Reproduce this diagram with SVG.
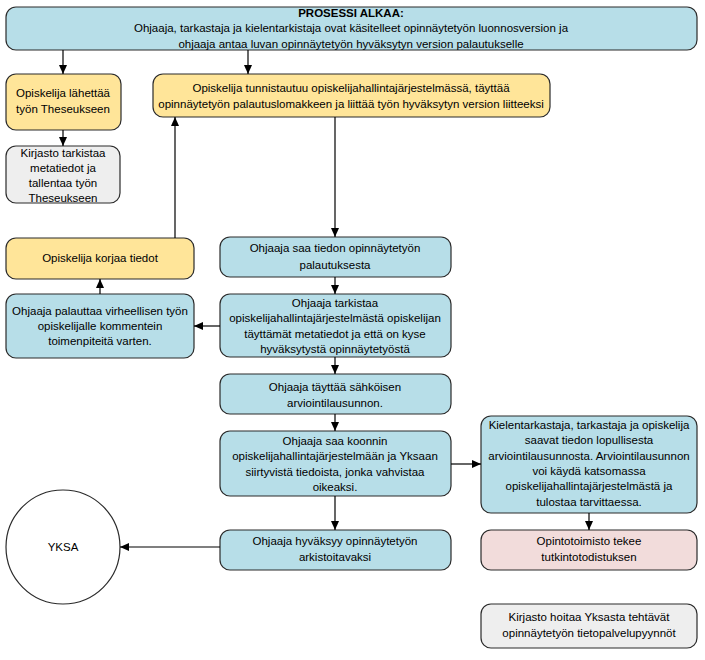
<svg xmlns="http://www.w3.org/2000/svg" width="705" height="660" viewBox="0 0 705 660">
<defs>
<marker id="ah" markerWidth="10" markerHeight="10" refX="9" refY="5" orient="auto" markerUnits="userSpaceOnUse">
<path d="M0,1 L9,5 L0,9 Z" fill="#000"/>
</marker>
<style>
.b{stroke:#2b2b2b;stroke-width:1.2}
.blue{fill:#B7DEE8}
.yel{fill:#FFE599}
.gray{fill:#EEEEEE}
.pink{fill:#F2DCDB}
text{font-family:"Liberation Sans",Arial,sans-serif;font-size:11.5px;fill:#000;text-anchor:middle}
.c line{stroke:#000;stroke-width:1.2;marker-end:url(#ah)}
</style>
</defs>
<rect width="705" height="660" fill="#fff"/>
<g id="start">
<rect class="b blue" x="6" y="7" width="691" height="43" rx="10"/>
<text x="351" y="17" font-weight="bold">PROSESSI ALKAA:</text>
<text x="351" y="32">Ohjaaja, tarkastaja ja kielentarkistaja ovat käsitelleet opinnäytetyön luonnosversion ja</text>
<text x="351" y="48">ohjaaja antaa luvan opinnäytetyön hyväksytyn version palautukselle</text>
</g>
<g id="laheta">
<rect class="b yel" x="6" y="74" width="115" height="56" rx="10"/>
<text x="63" y="97">Opiskelija lähettää</text>
<text x="63" y="113">työn Theseukseen</text>
</g>
<g id="tunnistautuu">
<rect class="b yel" x="153" y="74" width="397" height="43" rx="10"/>
<text x="351" y="92">Opiskelija tunnistautuu opiskelijahallintajärjestelmässä, täyttää</text>
<text x="351" y="108">opinnäytetyön palautuslomakkeen ja liittää työn hyväksytyn version liitteeksi</text>
</g>
<g id="kirjasto1">
<rect class="b gray" x="6" y="146" width="114" height="57" rx="10"/>
<text x="63" y="157">Kirjasto tarkistaa</text>
<text x="63" y="172">metatiedot ja</text>
<text x="63" y="187">tallentaa työn</text>
<text x="63" y="202">Theseukseen</text>
</g>
<g id="korjaa">
<rect class="b yel" x="6" y="238" width="188" height="41" rx="10"/>
<text x="100" y="262">Opiskelija korjaa tiedot</text>
</g>
<g id="palauttaa">
<rect class="b blue" x="6" y="294" width="188" height="64" rx="10"/>
<text x="100" y="315">Ohjaaja palauttaa virheellisen työn</text>
<text x="100" y="330">opiskelijalle kommentein</text>
<text x="100" y="345">toimenpiteitä varten.</text>
</g>
<g id="saatiedon">
<rect class="b blue" x="220" y="237" width="231" height="40" rx="10"/>
<text x="335" y="252">Ohjaaja saa tiedon opinnäytetyön</text>
<text x="335" y="269">palautuksesta</text>
</g>
<g id="tarkistaa">
<rect class="b blue" x="220" y="294" width="231" height="63" rx="10"/>
<text x="335" y="307">Ohjaaja tarkistaa</text>
<text x="335" y="322">opiskelijahallintajärjestelmästä opiskelijan</text>
<text x="335" y="338">täyttämät metatiedot ja että on kyse</text>
<text x="335" y="353">hyväksytystä opinnäytetyöstä</text>
</g>
<g id="tayttaa">
<rect class="b blue" x="220" y="374" width="231" height="40" rx="10"/>
<text x="335" y="391">Ohjaaja täyttää sähköisen</text>
<text x="335" y="407">arviointilausunnon.</text>
</g>
<g id="koonnin">
<rect class="b blue" x="220" y="431" width="231" height="65" rx="10"/>
<text x="335" y="445">Ohjaaja saa koonnin</text>
<text x="335" y="460">opiskelijahallintajärjestelmään ja Yksaan</text>
<text x="335" y="476">siirtyvistä tiedoista, jonka vahvistaa</text>
<text x="335" y="491">oikeaksi.</text>
</g>
<g id="hyvaksyy">
<rect class="b blue" x="220" y="530" width="231" height="40" rx="10"/>
<text x="335" y="545">Ohjaaja hyväksyy opinnäytetyön</text>
<text x="335" y="561">arkistoitavaksi</text>
</g>
<g id="kielentarkastaja">
<rect class="b blue" x="481" y="416" width="216" height="97" rx="10"/>
<text x="589" y="429">Kielentarkastaja, tarkastaja ja opiskelija</text>
<text x="589" y="444">saavat tiedon lopullisesta</text>
<text x="589" y="460">arviointilausunnosta. Arviointilausunnon</text>
<text x="589" y="475">voi käydä katsomassa</text>
<text x="589" y="490">opiskelijahallintajärjestelmästä ja</text>
<text x="589" y="506">tulostaa tarvittaessa.</text>
</g>
<g id="opintotoimisto">
<rect class="b pink" x="481" y="530" width="216" height="40" rx="10"/>
<text x="589" y="545">Opintotoimisto tekee</text>
<text x="589" y="561">tutkintotodistuksen</text>
</g>
<g id="kirjasto2">
<rect class="b gray" x="481" y="604" width="216" height="44" rx="10"/>
<text x="589" y="621">Kirjasto hoitaa Yksasta tehtävät</text>
<text x="589" y="637">opinnäytetyön tietopalvelupyynnöt</text>
</g>
<g id="yksa">
<circle class="b" cx="63" cy="547" r="57" fill="#fff"/>
<text x="63" y="551">YKSA</text>
</g>
<g id="connectors" class="c">
<line x1="63" y1="50" x2="63" y2="74"/>
<line x1="248" y1="50" x2="248" y2="74"/>
<line x1="63" y1="130" x2="63" y2="146"/>
<line x1="175" y1="238" x2="175" y2="117"/>
<line x1="100" y1="294" x2="100" y2="279"/>
<line x1="220" y1="326" x2="194" y2="326"/>
<line x1="335" y1="117" x2="335" y2="237"/>
<line x1="335" y1="277" x2="335" y2="294"/>
<line x1="335" y1="357" x2="335" y2="374"/>
<line x1="335" y1="414" x2="335" y2="431"/>
<line x1="335" y1="496" x2="335" y2="530"/>
<line x1="451" y1="464" x2="481" y2="464"/>
<line x1="589" y1="513" x2="589" y2="530"/>
<line x1="220" y1="547" x2="120" y2="547"/>
</g>
</svg>
